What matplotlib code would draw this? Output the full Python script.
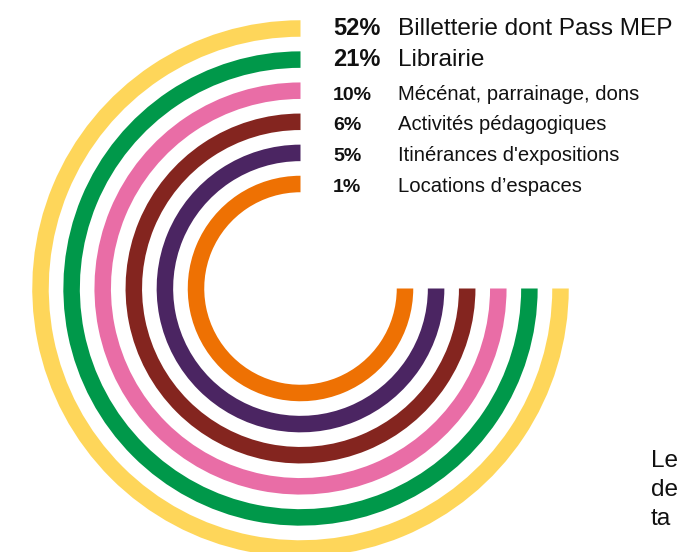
import matplotlib
matplotlib.use("Agg")
import matplotlib.pyplot as plt
from matplotlib.patches import Wedge

# Data
categories = ["Billetterie dont Pass MEP", "Librairie", "Mécénat, parrainage, dons",
              "Activités pédagogiques", "Itinérances d'expositions", "Locations d\u2019espaces"]
shares = [52, 21, 10, 6, 5, 1]
colors = ["#FED65A", "#00984A", "#E96DA6", "#84251F", "#4B2562", "#EE7103"]
side_text = ["Le", "de", "ta"]

plt.rcParams['font.family'] = ['Liberation Sans', 'DejaVu Sans']

W, H = 677, 552
fig = plt.figure(figsize=(W / 100, H / 100), dpi=100)
ax = fig.add_axes([0, 0, 1, 1])
ax.set_xlim(0, W)
ax.set_ylim(H, 0)
ax.axis('off')

cx, cy = 300.5, 288.5
r_outer = 260
step = 31.1
ring_w = 16.5

for i, (val, col) in enumerate(zip(shares, colors)):
    r = r_outer - i * step
    ax.add_patch(Wedge((cx, cy), r + ring_w / 2, 0, 270, width=ring_w,
                       facecolor=col, edgecolor='none', antialiased=True))

baselines = [35, 66.5, 99.5, 130, 161, 192.5]
for i, (cat, val) in enumerate(zip(categories, shares)):
    big = i < 2
    fs_pct = 17 if big else 14
    fs_lab = 17.6 if big else 14.6
    ax.text(333, baselines[i], f"{val}%", fontsize=fs_pct, fontweight='bold',
            ha='left', va='baseline', color='#111111')
    ax.text(398, baselines[i], cat, fontsize=fs_lab, ha='left', va='baseline',
            color='#111111')

for j, t in enumerate(side_text):
    ax.text(651, 467 + j * 29, t, fontsize=17.6, ha='left', va='baseline', color='#111111')

fig.savefig("out.png", dpi=100)
